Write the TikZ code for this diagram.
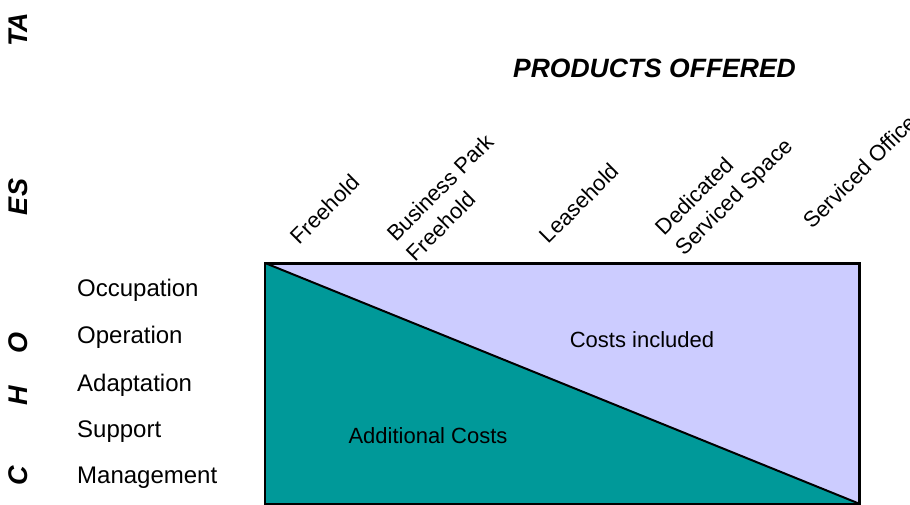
\documentclass[tikz,border=0pt]{standalone}
\usepackage{fontspec}
\setmainfont{Liberation Sans}
\definecolor{lav}{HTML}{CCCCFF}
\definecolor{teal2}{HTML}{009999}
\begin{document}
\begin{tikzpicture}[x=1pt,y=-1pt,
  lbl/.style={font=\fontsize{22}{28}\selectfont, inner sep=0pt},
  rowlbl/.style={font=\fontsize{24}{28}\selectfont, inner sep=0pt, anchor=west},
  prod/.style={lbl, rotate=45, anchor=south west, align=left},
  vlet/.style={font=\fontsize{27}{30}\selectfont\bfseries\itshape, inner sep=0pt, rotate=90},
  box/.style={draw=black, line width=2pt, fill=lav, minimum width=593pt, minimum height=239pt, inner sep=0pt}]
\useasboundingbox (0,0) rectangle (910,505);
% main box
\node[box] (box) at (562.5,383.5) {};
\fill[teal2] (box.north west) -- (box.south west) -- (box.south east) -- cycle;
\draw[line width=2pt] (box.north west) -- (box.south east);
\draw[line width=2pt] (box.north west) rectangle (box.south east);
\node[lbl] (inc) at (642,340) {Costs included};
\node[lbl] (add) at (428,436) {Additional Costs};
% title
\node[font=\fontsize{26.5}{30}\selectfont\bfseries\itshape, inner sep=0pt] (title) at (654.5,68) {PRODUCTS OFFERED};
% product labels
\node[prod] (p1) at (300,246) {Freehold};
\node[prod] (p2) at (416,263) {Business Park\\Freehold};
\node[prod] (p3) at (549,245) {Leasehold};
\node[prod] (p4) at (688,260) {Dedicated\\Serviced Space};
\node[prod] (p5) at (813,230) {Serviced Office};
% row labels
\node[rowlbl] (r1) at (77,290) {Occupation};
\node[rowlbl] (r2) at (77,337) {Operation};
\node[rowlbl] (r3) at (77,385) {Adaptation};
\node[rowlbl] (r4) at (77,432) {Support};
\node[rowlbl] (r5) at (77,478) {Management};
% vertical letters
\node[vlet] (v1) at (18,30) {TA};
\node[vlet] (v2) at (18,197) {ES};
\node[vlet] (v3) at (18,343) {O};
\node[vlet] (v4) at (18,396) {H};
\node[vlet] (v5) at (18,476) {C};
\end{tikzpicture}
\end{document}
